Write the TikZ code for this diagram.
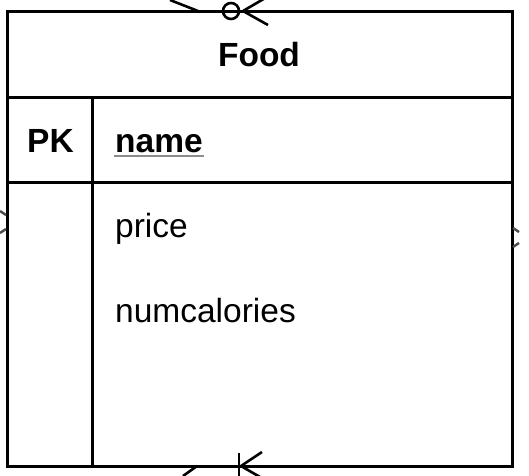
\documentclass[tikz,border=0pt]{standalone}
\usepackage{fontspec}
\setmainfont{Liberation Sans}
\begin{document}
\begin{tikzpicture}[x=1pt,y=-1pt,
  frame/.style={line width=3pt},
  conn/.style={line width=2.6pt,line cap=butt},
  faint/.style={line width=2.4pt,black!70},
  lbl/.style={font=\fontsize{33.5}{36}\selectfont,inner sep=0pt,anchor=base west},
  blbl/.style={lbl,font=\fontsize{33.5}{36}\selectfont\bfseries}]
\useasboundingbox (0,0) rectangle (529,475);
% table frame
\draw[frame] (7.5,11) rectangle (512,466);
\draw[frame] (7.5,97) -- (512,97);
\draw[frame] (7.5,182) -- (512,182);
\draw[frame] (92,97) -- (92,466);
% texts
\node[blbl,anchor=base] (title) at (259,66) {Food};
\node[blbl] (pk) at (27,152) {PK};
\node[blbl] (name) at (115,152) {name};
\draw[line width=2pt,black!45] (name.base west)++(-1,4) -- ++(90,0);
\node[lbl] (price) at (115,237) {price};
\node[lbl] (cal) at (115,322) {numcalories};
% connector fragments (top)
\draw[conn] (170,0) -- (198,11);
\draw[conn] (231,11) circle[radius=8];
\draw[conn] (243,11) -- (267,-3);
\draw[conn] (243,11) -- (268,25);
% bottom
\draw[conn] (183,476) -- (197,466);
\draw[conn] (239,453) -- (239,476);
\draw[conn] (241,466) -- (262,452);
\draw[conn] (241,466) -- (260,477);
% left and right edges
\draw[faint] (0,211) -- (6,215);
\draw[faint] (0,233) -- (6,229);
\draw[faint] (513,228) -- (519,232);
\draw[faint] (513,247) -- (519,243);
\end{tikzpicture}
\end{document}
